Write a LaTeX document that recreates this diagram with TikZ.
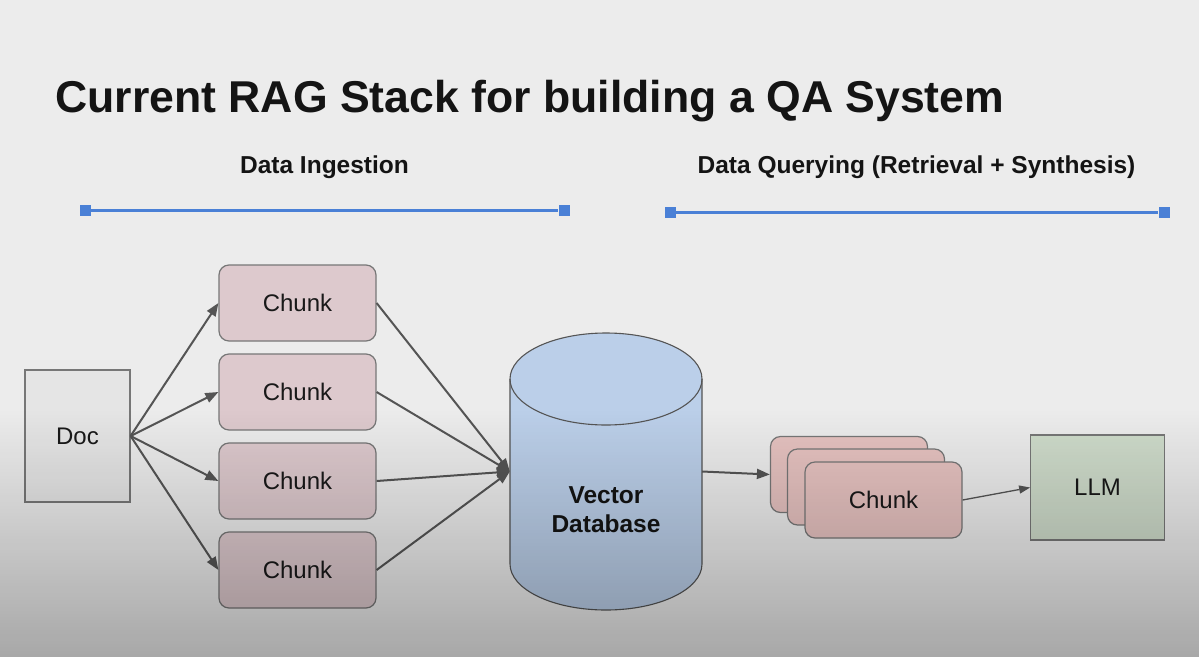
\documentclass[tikz,border=0pt]{standalone}
\usepackage{fontspec}
\setmainfont{Liberation Sans}
\usetikzlibrary{arrows.meta,fadings}
\definecolor{bgc}{HTML}{ECECEC}
\definecolor{bluel}{HTML}{4A80D6}
\definecolor{arr}{HTML}{555555}
\definecolor{chunkf}{HTML}{DDC9CD}
\definecolor{stackf}{HTML}{E6C2C0}
\definecolor{docf}{HTML}{E5E5E5}
\definecolor{llmf}{HTML}{CEDBCA}
\definecolor{dbf}{HTML}{BBCFE9}
\definecolor{edge}{HTML}{777777}
\tikzset{
  sq/.style={fill=bluel, minimum width=11, minimum height=11, inner sep=0},
  bluebar/.style={draw=bluel, line width=3},
  chunkbox/.style={draw=edge, line width=1.2, fill=chunkf, rounded corners=10, minimum width=157, minimum height=76, inner sep=0, font=\fontsize{24}{28}\selectfont, text=black!90},
  stackbox/.style={chunkbox, fill=stackf},
  plainbox/.style={draw=edge, line width=1.2, inner sep=0, font=\fontsize{24}{28}\selectfont, text=black!90},
  flow/.style={draw=arr, line width=2, -{Triangle[length=13,width=10]}},
  thinflow/.style={draw=arr, line width=1.3, -{Triangle[length=11,width=8]}},
  heading/.style={anchor=base, inner sep=0, font=\bfseries\fontsize{24.5}{29}\selectfont, text=black!92},
}
\begin{document}
\begin{tikzpicture}[x=1pt, y=-1pt]
\useasboundingbox (0,0) rectangle (1199,656);
\fill[bgc] (-2,-2) rectangle (1201,658);

% title and headings
\node[anchor=base west, inner sep=0, font=\bfseries\fontsize{44.6}{50}\selectfont, text=black!92] (title) at (55,112) {Current RAG Stack for building a QA System};
\node[heading] (hin) at (324.5,173.5) {Data Ingestion};
\node[heading] (hq) at (916.5,173.5) {Data Querying (Retrieval + Synthesis)};

% blue bars
\node[sq] (la) at (85,210) {};
\node[sq] (lb) at (564,210) {};
\draw[bluebar] (la) -- (lb);
\node[sq] (ra) at (670,212) {};
\node[sq] (rb) at (1164,212) {};
\draw[bluebar] (ra) -- (rb);

% doc and chunks
\node[plainbox, fill=docf, minimum width=105, minimum height=132] (doc) at (77.5,436) {Doc};
\node[chunkbox] (c1) at (297.5,303) {Chunk};
\node[chunkbox] (c2) at (297.5,392) {Chunk};
\node[chunkbox] (c3) at (297.5,481) {Chunk};
\node[chunkbox] (c4) at (297.5,570) {Chunk};

% cylinder
\filldraw[fill=dbf, draw=arr, line width=1.1]
  (510,379) -- (510,564) arc[start angle=180, end angle=0, x radius=96, y radius=46]
  -- (702,379) arc[start angle=0, end angle=-180, x radius=96, y radius=46] -- cycle;
\draw[draw=arr, line width=1.1] (510,379) arc[start angle=180, end angle=0, x radius=96, y radius=46];
\node[inner sep=0, minimum width=192, minimum height=277] (db) at (606,471.5) {};
\node[align=center, inner sep=0, font=\bfseries\fontsize{24.5}{29}\selectfont, text=black!92] (dbt) at (606,510) {Vector\\Database};

% stack
\node[stackbox] (s1) at (849,474.5) {};
\node[stackbox] (s2) at (866,487) {};
\node[stackbox] (s3) at (883.5,500) {Chunk};
\node[plainbox, fill=llmf, minimum width=133.5, minimum height=105] (llm) at (1097.5,487.5) {LLM};

% connectors
\foreach \c in {c1,c2,c3,c4} {
  \draw[flow] (doc.east) -- (\c.west);
  \draw[flow] (\c.east) -- (db.west);
}
\draw[flow] (db.east) -- (s1.west);
\draw[thinflow] (s3.east) -- (llm.west);

% darkening toward the bottom
\fill[black, fill opacity=0.29, path fading=north] (-2,410) rectangle (1201,658);
\end{tikzpicture}
\end{document}
